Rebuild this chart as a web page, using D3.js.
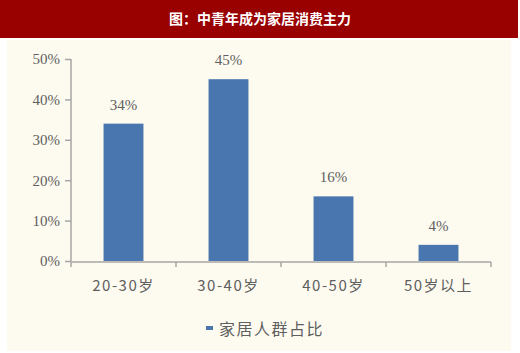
<!DOCTYPE html>
<html>
<head>
<meta charset="utf-8">
<style>
    body { margin: 0; background: #fff; }
    svg { display: block; }
    text { font-family: 'Liberation Serif', 'Noto Sans CJK SC', serif; }
</style>
</head>
<body>
<svg id="chart" width="520" height="353"></svg>
<script src="https://d3js.org/d3.v7.min.js"></script>
<script>
    let title = "图：中青年成为家居消费主力"
    let categories = ["20-30岁", "30-40岁", "40-50岁", "50岁以上"]
    let values = [34, 45, 16, 4]
    let yTicks = [0, 10, 20, 30, 40, 50]
    let seriesName = "家居人群占比"

    let svg = d3.select("#chart")
    let gray = "#5f5f5f"

    // banner
    svg.append("rect").attr("x", 0).attr("y", 0).attr("width", 518).attr("height", 38).attr("fill", "#990000")
    svg.append("text")
        .attr("x", 260).attr("y", 24)
        .attr("text-anchor", "middle")
        .attr("fill", "white")
        .style("font-family", "'Noto Sans CJK SC', sans-serif")
        .style("font-weight", "bold")
        .style("font-size", "14px")
        .text(title)

    // plot background
    svg.append("rect").attr("x", 7).attr("y", 40).attr("width", 504).attr("height", 311).attr("fill", "#fdfaef")

    let x = d3.scaleBand().domain(categories).range([71, 491]).paddingInner(0.62).paddingOuter(0.31)
    let y = d3.scaleLinear().domain([0, 50]).range([261, 59])

    let yAxis = svg.append("g")
        .attr("transform", "translate(71,0)")
        .call(d3.axisLeft(y).tickValues(yTicks).tickFormat(d => d + "%").tickSize(6).tickPadding(5))
    yAxis.selectAll("line, path").attr("stroke", "#a6a6a6").attr("stroke-width", 1.5)
    yAxis.select(".domain").attr("d", "M0,59V261")
    yAxis.selectAll("text").attr("fill", gray).style("font-size", "15px")
        .style("font-family", "'Liberation Serif', serif")

    // bars
    svg.append("g").selectAll("rect")
        .data(values)
        .join("rect")
        .attr("x", (d, i) => x(categories[i]))
        .attr("y", d => y(d))
        .attr("width", x.bandwidth())
        .attr("height", d => y(0) - y(d))
        .attr("fill", "#4a76b0")

    svg.append("g").selectAll("text")
        .data(values)
        .join("text")
        .attr("x", (d, i) => x(categories[i]) + x.bandwidth() / 2)
        .attr("y", d => y(d) - 14)
        .attr("text-anchor", "middle")
        .attr("fill", gray)
        .style("font-size", "15px")
        .text(d => d + "%")

    // x axis
    let step = (491 - 71) / categories.length
    let xAxis = svg.append("g")
    xAxis.append("line").attr("x1", 71).attr("x2", 491).attr("y1", 262).attr("y2", 262)
        .attr("stroke", "#a6a6a6").attr("stroke-width", 1.5)
    xAxis.selectAll(".tick")
        .data(d3.range(categories.length + 1))
        .join("line")
        .attr("x1", i => 71 + i * step).attr("x2", i => 71 + i * step)
        .attr("y1", 262).attr("y2", 267)
        .attr("stroke", "#a6a6a6").attr("stroke-width", 1.5)
    xAxis.selectAll("text")
        .data(categories)
        .join("text")
        .attr("x", d => x(d) + x.bandwidth() / 2)
        .attr("y", 291)
        .attr("text-anchor", "middle")
        .attr("fill", gray)
        .style("font-size", "15px")
        .style("letter-spacing", "1.5px")
        .style("font-family", "'Noto Sans CJK SC', sans-serif")
        .text(d => d)

    // legend
    svg.append("rect").attr("x", 206).attr("y", 326).attr("width", 7).attr("height", 4).attr("fill", "#4a76b0")
    svg.append("text")
        .attr("x", 219).attr("y", 335)
        .attr("fill", gray)
        .style("font-size", "16px")
        .style("letter-spacing", "1.5px")
        .style("font-family", "'Noto Sans CJK SC', sans-serif")
        .text(seriesName)
</script>
</body>
</html>
